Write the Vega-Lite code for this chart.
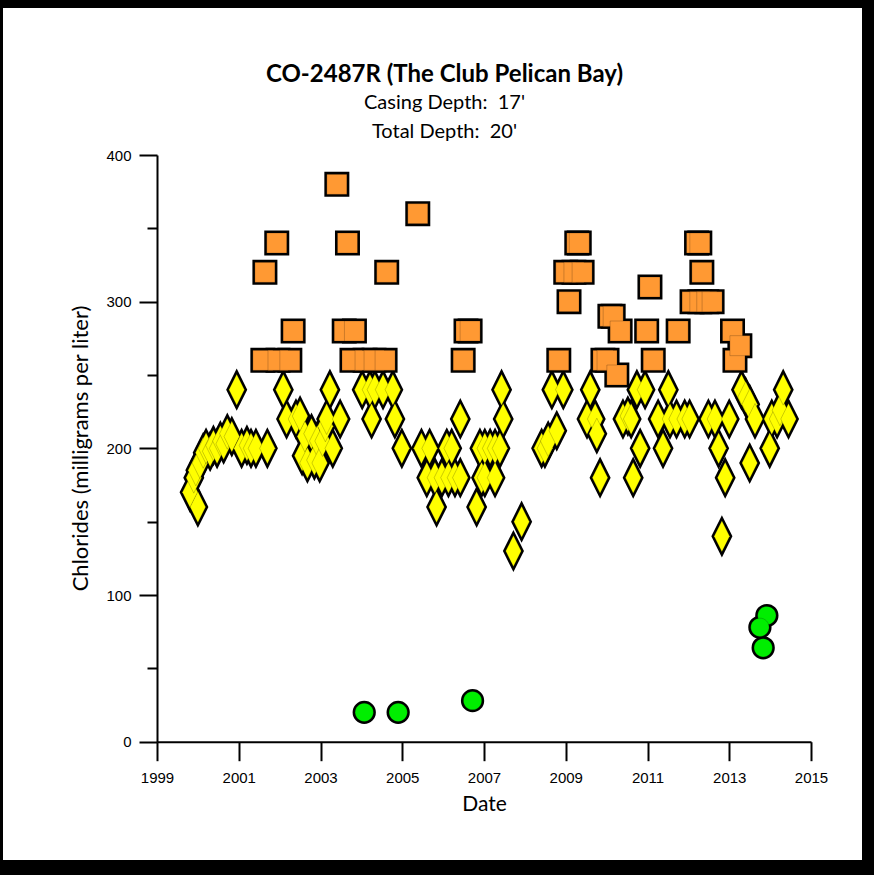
{
  "$schema": "https://vega.github.io/schema/vega-lite/v6.json",
  "width": 859,
  "height": 852,
  "autosize": "none",
  "padding": {"left": 3, "top": 8, "right": 12, "bottom": 15},
  "background": "black",
  "view": {"fill": "white", "stroke": null},
  "config": {"view": {"stroke": null}},
  "title": {
    "text": "CO-2487R (The Club Pelican Bay)",
    "subtitle": ["Casing Depth: \u00a017'", "Total Depth: \u00a020'"],
    "anchor": "middle",
    "frame": "group",
    "offset": -134,
    "dx": 12,
    "font": "Lato",
    "fontSize": 24,
    "fontWeight": "bold",
    "color": "black",
    "subtitleFont": "Lato",
    "subtitleFontSize": 20,
    "subtitleColor": "black",
    "subtitleLineHeight": 29,
    "subtitlePadding": 6
  },
  "data": {
    "values": [
      {"t":1999.81,"v":170,"s":"Y"},{"t":1999.9,"v":180,"s":"Y"},{"t":1999.95,"v":185,"s":"Y"},{"t":2000.0,"v":160,"s":"Y"},{"t":2000.05,"v":190,"s":"Y"},{"t":2000.13,"v":197,"s":"Y"},{"t":2000.2,"v":200,"s":"Y"},{"t":2000.3,"v":198,"s":"Y"},{"t":2000.38,"v":202,"s":"Y"},{"t":2000.47,"v":200,"s":"Y"},{"t":2000.55,"v":205,"s":"Y"},{"t":2000.63,"v":203,"s":"Y"},{"t":2000.72,"v":210,"s":"Y"},{"t":2000.83,"v":208,"s":"Y"},{"t":2000.95,"v":240,"s":"Y"},{"t":2001.07,"v":200,"s":"Y"},{"t":2001.2,"v":202,"s":"Y"},{"t":2001.3,"v":200,"s":"Y"},{"t":2001.42,"v":200,"s":"Y"},{"t":2001.7,"v":200,"s":"Y"},
      {"t":2002.09,"v":240,"s":"Y"},{"t":2002.17,"v":220,"s":"Y"},{"t":2002.4,"v":220,"s":"Y"},{"t":2002.5,"v":222,"s":"Y"},{"t":2002.55,"v":195,"s":"Y"},{"t":2002.62,"v":208,"s":"Y"},{"t":2002.68,"v":190,"s":"Y"},{"t":2002.78,"v":210,"s":"Y"},{"t":2002.85,"v":192,"s":"Y"},{"t":2002.92,"v":205,"s":"Y"},{"t":2002.98,"v":190,"s":"Y"},{"t":2003.05,"v":205,"s":"Y"},{"t":2003.12,"v":215,"s":"Y"},{"t":2003.15,"v":220,"s":"Y"},{"t":2003.23,"v":240,"s":"Y"},{"t":2003.3,"v":200,"s":"Y"},{"t":2003.48,"v":220,"s":"Y"},
      {"t":2004.02,"v":240,"s":"Y"},{"t":2004.21,"v":240,"s":"Y"},{"t":2004.25,"v":220,"s":"Y"},{"t":2004.33,"v":240,"s":"Y"},{"t":2004.53,"v":240,"s":"Y"},{"t":2004.77,"v":240,"s":"Y"},{"t":2004.82,"v":220,"s":"Y"},{"t":2004.99,"v":200,"s":"Y"},
      {"t":2005.47,"v":200,"s":"Y"},{"t":2005.6,"v":180,"s":"Y"},{"t":2005.67,"v":200,"s":"Y"},{"t":2005.8,"v":180,"s":"Y"},{"t":2005.84,"v":160,"s":"Y"},{"t":2005.97,"v":180,"s":"Y"},{"t":2006.09,"v":200,"s":"Y"},{"t":2006.13,"v":180,"s":"Y"},{"t":2006.21,"v":200,"s":"Y"},{"t":2006.29,"v":180,"s":"Y"},{"t":2006.42,"v":180,"s":"Y"},{"t":2006.42,"v":220,"s":"Y"},
      {"t":2006.82,"v":160,"s":"Y"},{"t":2006.9,"v":200,"s":"Y"},{"t":2006.94,"v":180,"s":"Y"},{"t":2007.02,"v":200,"s":"Y"},{"t":2007.02,"v":180,"s":"Y"},{"t":2007.15,"v":200,"s":"Y"},{"t":2007.27,"v":200,"s":"Y"},{"t":2007.27,"v":180,"s":"Y"},{"t":2007.39,"v":200,"s":"Y"},{"t":2007.43,"v":240,"s":"Y"},{"t":2007.47,"v":220,"s":"Y"},{"t":2007.72,"v":130,"s":"Y"},{"t":2007.92,"v":150,"s":"Y"},
      {"t":2008.41,"v":200,"s":"Y"},{"t":2008.49,"v":200,"s":"Y"},{"t":2008.57,"v":205,"s":"Y"},{"t":2008.66,"v":240,"s":"Y"},{"t":2008.78,"v":212,"s":"Y"},{"t":2008.94,"v":240,"s":"Y"},
      {"t":2009.52,"v":220,"s":"Y"},{"t":2009.6,"v":240,"s":"Y"},{"t":2009.72,"v":220,"s":"Y"},{"t":2009.76,"v":210,"s":"Y"},{"t":2009.84,"v":180,"s":"Y"},
      {"t":2010.4,"v":220,"s":"Y"},{"t":2010.52,"v":222,"s":"Y"},{"t":2010.6,"v":220,"s":"Y"},{"t":2010.65,"v":180,"s":"Y"},{"t":2010.74,"v":240,"s":"Y"},{"t":2010.82,"v":200,"s":"Y"},{"t":2010.94,"v":240,"s":"Y"},
      {"t":2011.26,"v":220,"s":"Y"},{"t":2011.38,"v":200,"s":"Y"},{"t":2011.51,"v":240,"s":"Y"},{"t":2011.55,"v":220,"s":"Y"},{"t":2011.71,"v":220,"s":"Y"},{"t":2011.91,"v":220,"s":"Y"},{"t":2012.03,"v":220,"s":"Y"},{"t":2012.49,"v":220,"s":"Y"},
      {"t":2012.65,"v":220,"s":"Y"},{"t":2012.74,"v":200,"s":"Y"},{"t":2012.82,"v":140,"s":"Y"},{"t":2012.9,"v":180,"s":"Y"},{"t":2013.0,"v":220,"s":"Y"},
      {"t":2013.3,"v":240,"s":"Y"},{"t":2013.4,"v":235,"s":"Y"},{"t":2013.5,"v":230,"s":"Y"},{"t":2013.5,"v":190,"s":"Y"},{"t":2013.63,"v":220,"s":"Y"},{"t":2013.99,"v":200,"s":"Y"},{"t":2014.04,"v":220,"s":"Y"},{"t":2014.17,"v":220,"s":"Y"},{"t":2014.24,"v":226,"s":"Y"},{"t":2014.32,"v":240,"s":"Y"},{"t":2014.45,"v":220,"s":"Y"},
      {"t":2001.59,"v":260,"s":"O"},{"t":2001.64,"v":320,"s":"O"},{"t":2001.93,"v":340,"s":"O"},{"t":2001.96,"v":260,"s":"O"},{"t":2002.25,"v":260,"s":"O"},{"t":2002.33,"v":280,"s":"O"},{"t":2003.4,"v":380,"s":"O"},{"t":2003.58,"v":280,"s":"O"},{"t":2003.66,"v":340,"s":"O"},{"t":2003.77,"v":260,"s":"O"},{"t":2003.83,"v":280,"s":"O"},{"t":2004.09,"v":260,"s":"O"},{"t":2004.31,"v":260,"s":"O"},{"t":2004.58,"v":260,"s":"O"},{"t":2004.62,"v":320,"s":"O"},{"t":2005.38,"v":360,"s":"O"},
      {"t":2006.49,"v":260,"s":"O"},{"t":2006.56,"v":280,"s":"O"},{"t":2006.66,"v":280,"s":"O"},{"t":2008.83,"v":260,"s":"O"},{"t":2009.0,"v":320,"s":"O"},{"t":2009.08,"v":300,"s":"O"},{"t":2009.2,"v":320,"s":"O"},{"t":2009.27,"v":340,"s":"O"},{"t":2009.33,"v":340,"s":"O"},{"t":2009.4,"v":320,"s":"O"},
      {"t":2009.91,"v":260,"s":"O"},{"t":2010.01,"v":260,"s":"O"},{"t":2010.08,"v":290,"s":"O"},{"t":2010.16,"v":290,"s":"O"},{"t":2010.25,"v":250,"s":"O"},{"t":2010.33,"v":280,"s":"O"},{"t":2010.98,"v":280,"s":"O"},{"t":2011.06,"v":310,"s":"O"},{"t":2011.14,"v":260,"s":"O"},{"t":2011.75,"v":280,"s":"O"},
      {"t":2012.09,"v":300,"s":"O"},{"t":2012.2,"v":340,"s":"O"},{"t":2012.28,"v":340,"s":"O"},{"t":2012.33,"v":320,"s":"O"},{"t":2012.28,"v":300,"s":"O"},{"t":2012.45,"v":300,"s":"O"},{"t":2012.58,"v":300,"s":"O"},{"t":2013.08,"v":280,"s":"O"},{"t":2013.14,"v":260,"s":"O"},{"t":2013.26,"v":270,"s":"O"},
      {"t":2004.07,"v":20,"s":"G"},{"t":2004.9,"v":20,"s":"G"},{"t":2006.72,"v":28,"s":"G"},{"t":2013.92,"v":86,"s":"G"},{"t":2013.75,"v":78,"s":"G"},{"t":2013.83,"v":64,"s":"G"}
    ]
  },
  "encoding": {
    "x": {
      "field": "t",
      "type": "quantitative",
      "scale": {"domain": [1999, 2015], "range": [154, 808], "nice": false, "zero": false},
      "axis": {
        "title": "Date",
        "orient": "bottom",
        "offset": -118.3,
        "values": [1999, 2001, 2003, 2005, 2007, 2009, 2011, 2013, 2015],
        "format": "d",
        "grid": false,
        "domainColor": "black",
        "domainWidth": 2,
        "tickColor": "black",
        "tickWidth": 2,
        "tickSize": 19,
        "labelFont": "Liberation Sans",
        "labelFontSize": 15,
        "labelColor": "black",
        "labelPadding": 10,
        "labelFlush": false,
        "labelOverlap": false,
        "titleFont": "Lato",
        "titleFontSize": 21,
        "titleFontWeight": "normal",
        "titleColor": "black",
        "titleBaseline": "middle",
        "titleY": 63
      }
    },
    "y": {
      "field": "v",
      "type": "quantitative",
      "scale": {"domain": [0, 400], "range": [733.7, 147], "nice": false, "zero": true},
      "axis": {
        "title": "Chlorides (milligrams per liter)",
        "orient": "left",
        "offset": -154,
        "values": [0, 50, 100, 150, 200, 250, 300, 350, 400],
        "labelExpr": "datum.value % 100 === 0 ? datum.label : ''",
        "grid": false,
        "domainColor": "black",
        "domainWidth": 2,
        "tickColor": "black",
        "tickWidth": 2,
        "tickSize": {"condition": {"test": "datum.value % 100 === 0", "value": 18}, "value": 10},
        "labelFont": "Liberation Sans",
        "labelFontSize": 15,
        "labelColor": "black",
        "labelPadding": 8,
        "labelOverlap": false,
        "labelFlush": false,
        "titleFont": "Lato",
        "titleFontSize": 22,
        "titleFontWeight": "normal",
        "titleColor": "black",
        "titleAngle": -90,
        "titleAlign": "center",
        "titleBaseline": "middle",
        "titleX": -77,
        "titleY": 440
      }
    },
    "shape": {
      "field": "s",
      "type": "nominal",
      "scale": {
        "domain": ["Y", "O", "G"],
        "range": [
          "M0,-1L0.5,0L0,1L-0.5,0Z",
          "M-0.645,-0.645L0.645,-0.645L0.645,0.645L-0.645,0.645Z",
          "M0.59,0A0.59,0.59,0,1,1,-0.59,0A0.59,0.59,0,1,1,0.59,0Z"
        ]
      },
      "legend": null
    }
  },
  "layer": [
    {
      "mark": {"type": "point", "filled": true, "color": "black", "stroke": "black", "strokeWidth": 5, "strokeJoin": "miter", "opacity": 1, "size": 961}
    },
    {
      "mark": {"type": "point", "filled": true, "opacity": 1, "size": 961, "stroke": "black", "strokeWidth": 0.8, "strokeOpacity": 0.25},
      "encoding": {
        "color": {
          "field": "s",
          "type": "nominal",
          "scale": {"domain": ["Y", "O", "G"], "range": ["#ffff00", "#ff9933", "#00ee00"]},
          "legend": null
        }
      }
    }
  ]
}
